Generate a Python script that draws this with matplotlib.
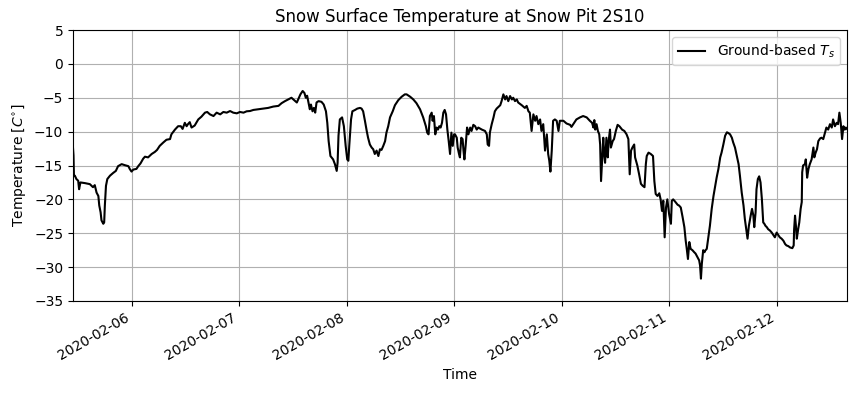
import matplotlib
matplotlib.use("Agg")
import matplotlib.pyplot as plt
import matplotlib.dates as mdates
import numpy as np
import pandas as pd

# Time reference and data (hours relative to 2020-02-06 00:00, temperature in C)
base_time = "2020-02-06 00:00"
hours = [
    -13.06, -12.95, -12.85, -12.65, -12.3, -11.9, -11.7, -11.4, -10.4, -9.3, -8.9, -8.6, -8.2, -7.8,
    -7.4, -7.2, -6.9, -6.7, -6.3, -6.1, -5.95, -5.7, -5.4, -4.8, -4.1, -3.5, -3.0, -2.2, -1.5,
    -0.7, -0.4, 0.0, 0.4, 1.1, 1.5, 2.0, 2.6, 3.0, 3.7, 4.5, 5.2, 5.7, 6.3, 7.1, 7.8, 8.6, 8.9,
    9.7, 10.4, 11.0, 11.4, 11.9, 12.3, 12.6, 13.0, 13.4, 14.1, 14.9,
    15.6, 16.4, 16.9, 17.5, 18.3, 19.0, 19.8, 20.5, 21.25, 22.0, 22.7, 23.5, 24.2, 25.0, 25.7,
    26.45, 27.2, 28.3, 29.4, 30.5, 31.65, 32.8, 33.5, 34.25, 35.0, 35.7, 36.3, 36.9, 37.2, 37.7,
    38.2, 38.6, 38.9, 39.2, 39.5, 39.8, 40.05, 40.4, 40.7, 41.0, 41.3, 41.75, 42.4, 42.9, 43.4,
    43.7, 44.0, 44.4, 45.0, 45.4, 45.8, 46.0, 46.2, 46.5, 47.0, 47.4, 47.8, 48.15, 48.4, 48.6,
    49.0, 49.3, 49.9, 50.4, 51.0, 51.35, 51.7, 52.1, 52.5, 52.8, 53.2, 53.6, 53.95, 54.3, 54.7,
    55.1, 55.45, 55.8, 56.2, 56.6, 56.9, 57.3, 57.7, 58.3, 58.8, 59.55, 60.3, 61.0, 61.4, 62.2,
    62.9, 63.6, 64.4, 65.1, 65.7, 66.0, 66.3, 66.6, 67.0, 67.2, 67.5, 67.8, 68.1, 68.4, 68.7,
    69.0, 69.3, 69.6, 69.9, 70.2, 70.5, 70.8, 71.1, 71.4, 71.7, 72.0,
    72.2, 72.6, 72.8, 73.1, 73.3, 73.6, 73.9, 74.1, 74.3, 74.6, 74.9, 75.2, 75.6, 75.9, 76.3,
    76.7, 77.05, 77.4, 78.2, 78.9, 79.3, 79.5, 79.8, 80.0, 80.4, 80.8, 81.1, 81.5, 82.3, 82.6,
    83.0, 83.4, 83.7, 84.1, 84.5, 84.9, 85.2, 85.6, 86.0, 86.3, 87.1, 87.8, 88.2, 88.6, 88.9,
    89.3, 89.7, 90.1, 90.4, 90.8, 91.2, 91.5, 91.9, 92.3, 92.7, 93.0, 93.25, 93.5, 93.8, 94.1,
    94.5, 94.9, 95.3, 95.6, 96.4, 97.1, 97.9, 98.2, 98.6, 99.3, 100.1, 100.8, 101.6, 102.3,
    102.8, 103.1, 103.3, 103.5, 103.8, 104.1, 104.4, 104.6, 104.8, 105.0, 105.3, 105.5, 105.7,
    106.0, 106.3, 106.5, 106.8, 107.0, 107.4, 107.7, 108.1, 108.5, 108.9, 109.5, 110.0, 110.5,
    110.9, 111.2, 111.5, 111.8, 112.2, 112.4, 112.9, 113.3, 113.7, 114.1, 114.5, 114.8, 115.0,
    115.4, 115.9, 116.4, 116.7, 117.0, 117.4, 117.8, 118.1, 118.4, 118.7, 119.0, 119.3, 119.6,
    120.0, 120.4, 120.6, 120.9, 121.3, 121.9, 122.2, 122.6, 123.0, 123.4, 123.7, 123.9, 124.2,
    124.5, 124.8, 125.2, 125.6, 125.9, 126.3, 126.7, 126.9, 127.1, 127.3, 127.6, 127.9,
    128.0, 128.4, 128.8, 129.1, 129.5, 129.9, 130.3, 130.6, 131.0, 131.4, 131.7, 132.1, 132.5,
    132.9, 133.2, 133.6, 134.0, 134.3, 134.7, 135.1, 135.5, 135.8, 136.2, 136.6, 136.9, 137.3,
    137.5, 137.8, 138.2, 138.5, 138.8, 139.0, 139.3, 139.5, 139.8, 140.1, 140.4, 140.7, 141.0,
    141.25, 141.5, 141.8, 142.1, 142.5, 142.9, 143.3, 143.6, 144.0, 144.4, 144.7, 145.1, 145.5,
    145.9, 146.2, 146.6, 147.0, 147.5, 147.8, 147.9, 148.1, 148.3, 148.5, 148.8, 149.05, 149.35,
    149.6, 149.7, 149.9, 150.3, 150.5, 150.8, 151.1, 151.4, 151.8, 152.2, 152.4, 152.7, 153.0,
    153.3, 153.7, 154.0, 154.4, 154.8, 155.1, 155.5, 155.9, 156.3, 156.6, 157.0, 157.4, 157.7,
    158.0, 158.3, 158.6, 158.9, 159.2, 159.45, 159.7,
]
temps = [
    -12.4, -13.5, -16.5, -16.5, -17.0, -17.25, -18.5, -17.5, -17.6, -17.75, -18.0, -18.2, -17.9, -19.0,
    -19.5, -20.9, -21.9, -23.1, -23.6, -23.4, -20.9, -18.0, -17.0, -16.5, -16.1, -15.8, -15.1, -14.8, -14.95,
    -15.1, -15.5, -15.9, -15.6, -15.5, -15.1, -14.7, -14.0, -13.7, -13.8, -13.3, -13.0, -12.7, -12.1, -11.6, -11.2, -11.1, -10.4,
    -9.7, -9.2, -9.2, -9.6, -8.7, -9.2, -8.9, -8.6, -9.4, -9.1, -8.2,
    -7.8, -7.2, -7.1, -7.45, -7.7, -7.2, -7.45, -7.1, -7.2, -6.96, -7.2, -7.3, -7.1, -7.2, -7.0,
    -6.96, -6.8, -6.7, -6.6, -6.5, -6.3, -6.2, -5.8, -5.5, -5.25, -5.0, -5.35, -5.7, -5.25, -4.5,
    -4.0, -4.3, -5.0, -4.7, -5.7, -6.7, -6.0, -7.0, -6.5, -7.2, -5.7, -5.5, -5.6, -6.0, -7.0,
    -8.7, -11.4, -13.6, -14.1, -14.8, -15.8, -14.6, -10.6, -8.2, -7.9, -9.2, -12.1, -14.1, -14.3, -12.1,
    -8.2, -7.0, -6.8, -6.6, -6.5, -6.6, -7.0, -8.4, -9.9, -10.9, -11.9, -12.35, -12.6, -13.3, -12.8,
    -13.6, -12.6, -12.7, -12.1, -11.4, -10.15, -9.2, -7.9, -7.0, -6.1, -5.35, -4.85, -4.5, -4.5, -4.85,
    -5.25, -5.8, -6.7, -7.9, -9.2, -10.15, -10.4, -7.7, -7.2, -8.4, -7.7, -10.4, -9.4, -9.7, -9.2,
    -9.4, -8.7, -7.2, -6.8, -7.45, -9.7, -11.4, -13.3, -10.15, -12.1, -10.4,
    -10.4, -10.9, -12.35, -13.3, -13.8, -10.9, -11.1, -12.8, -14.1, -11.9, -9.4, -10.4, -9.4, -9.9, -9.0,
    -9.2, -9.7, -9.4, -9.7, -9.9, -10.4, -11.9, -12.1, -10.1, -8.9, -7.9, -7.0, -6.6, -6.1, -5.5,
    -4.5, -5.25, -4.75, -5.5, -4.75, -5.25, -5.0, -5.5, -5.25, -5.7, -6.1, -6.5, -6.2, -7.0, -7.2,
    -9.9, -7.45, -8.4, -7.7, -8.9, -8.2, -9.9, -8.9, -12.8, -10.4, -13.3, -14.3, -15.9, -12.8, -8.4,
    -8.2, -8.4, -9.9, -8.4, -8.4, -8.8, -9.0, -9.3, -8.9, -8.2, -7.9, -7.7, -7.9, -8.4,
    -8.7, -9.4, -8.3, -9.7, -8.9, -9.9, -10.4, -11.9, -17.3, -14.8, -10.9, -13.3, -14.6,
    -10.9, -13.8, -11.4, -9.7, -12.35, -11.4, -11.1, -9.9, -9.0, -9.2, -9.7, -9.9, -10.4,
    -11.1, -16.3, -12.8, -12.35, -11.9, -13.8, -15.0, -16.3, -17.7, -18.0, -18.2, -14.8, -13.6,
    -13.1, -13.3, -13.6, -17.3, -19.2, -19.5, -19.1, -20.0, -21.7, -20.2, -25.6, -21.2, -20.0,
    -22.2, -23.6, -20.2, -20.0, -20.3, -20.8, -20.9, -21.2, -22.6, -24.1, -26.1, -27.1, -28.8,
    -26.3, -27.3, -27.5, -27.8, -28.0, -28.5, -29.0, -29.75, -31.7, -29.5, -27.5, -27.8,
    -27.6, -27.3, -25.3, -23.9, -21.4, -19.5, -18.0, -16.8, -15.5, -13.8, -13.1, -11.9, -10.6,
    -10.1, -10.2, -10.4, -10.9, -11.6, -12.35, -13.6, -14.8, -16.5, -19.0, -20.9, -22.9, -24.9,
    -25.8, -23.9, -22.4, -21.4, -22.4, -24.1, -21.9, -18.5, -17.0, -16.6, -17.5, -19.95, -23.4,
    -23.6, -23.9, -24.1, -24.4, -24.6, -24.9, -25.3, -25.6, -24.9, -25.3, -25.6, -25.8, -26.1,
    -26.6, -26.8, -26.9, -27.1, -27.2, -26.8, -24.4, -22.4, -23.9, -25.8, -24.4, -23.4, -21.4,
    -20.4, -16.0, -15.0, -14.8, -14.1, -16.8, -15.5, -14.8, -14.1, -12.35, -13.8, -13.1, -12.6,
    -11.4, -11.0, -10.9, -11.1, -10.1, -9.4, -9.7, -8.9, -9.4, -8.2, -9.2, -8.7, -8.9,
    -7.2, -8.7, -11.1, -9.2, -9.7, -9.4, -9.6,
]
y_ticks = [-35, -30, -25, -20, -15, -10, -5, 0, 5]

times = pd.Timestamp(base_time) + pd.to_timedelta(np.array(hours), unit="h")

fig = plt.figure(figsize=(8.57, 3.94), dpi=100)
ax = fig.add_subplot(111)
ax.plot(times, temps, color="black", linewidth=1.5, label="Ground-based $T_s$")
ax.set_xlim(times[0], times[-1])
ax.set_ylim(-35, 5)
ax.set_yticks(y_ticks)
ax.xaxis.set_major_locator(mdates.DayLocator())
ax.xaxis.set_major_formatter(mdates.DateFormatter("%Y-%m-%d"))
ax.grid(True)
ax.set_title("Snow Surface Temperature at Snow Pit 2S10")
ax.set_xlabel("Time")
ax.set_ylabel(r"Temperature [$C^{\circ}$]")
ax.legend(loc="upper right")
fig.autofmt_xdate()
fig.subplots_adjust(left=73/857, right=847/857, top=1-30/394, bottom=1-301/394)
fig.savefig("out.png", dpi=100)
